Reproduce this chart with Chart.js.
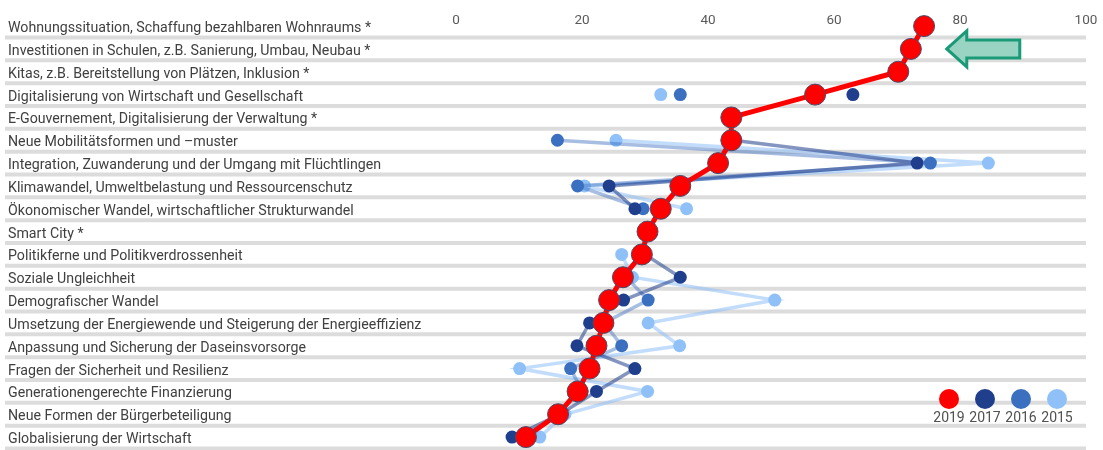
<!DOCTYPE html>
<html>
<head>
<meta charset="utf-8">
<script src="https://cdn.jsdelivr.net/npm/chart.js@4/dist/chart.umd.min.js"></script>
<style>
  html, body { margin: 0; padding: 0; background: #ffffff; overflow: hidden; }
  #wrap { position: relative; width: 1103px; height: 460px; }
</style>
</head>
<body>
<div id="wrap"><canvas id="chart" width="1103" height="460"></canvas></div>
<script>
// Themen (Zeilen), von oben nach unten
const categories = [
  'Wohnungssituation, Schaffung bezahlbaren Wohnraums *',
  'Investitionen in Schulen, z.B. Sanierung, Umbau, Neubau *',
  'Kitas, z.B. Bereitstellung von Plätzen, Inklusion *',
  'Digitalisierung von Wirtschaft und Gesellschaft',
  'E-Gouvernement, Digitalisierung der Verwaltung *',
  'Neue Mobilitätsformen und –muster',
  'Integration, Zuwanderung und der Umgang mit Flüchtlingen',
  'Klimawandel, Umweltbelastung und Ressourcenschutz',
  'Ökonomischer Wandel, wirtschaftlicher Strukturwandel',
  'Smart City *',
  'Politikferne und Politikverdrossenheit',
  'Soziale Ungleichheit',
  'Demografischer Wandel',
  'Umsetzung der Energiewende und Steigerung der Energieeffizienz',
  'Anpassung und Sicherung der Daseinsvorsorge',
  'Fragen der Sicherheit und Resilienz',
  'Generationengerechte Finanzierung',
  'Neue Formen der Bürgerbeteiligung',
  'Globalisierung der Wirtschaft'
];

const years = ['2019', '2017', '2016', '2015'];

// Anteile in Prozent je Jahr (null = Thema in diesem Jahr nicht abgefragt)
const values2019 = [74.3, 72.2, 70.2, 57.0, 43.7, 43.7, 41.6, 35.6, 32.5, 30.4, 29.5, 26.5, 24.3, 23.4, 22.3, 21.2, 19.3, 16.2, 11.1];
const values2017 = [null, null, null, 63.0, null, 44.0, 73.2, 24.3, 28.4, null, 30.0, 35.6, 26.6, 21.2, 19.2, 28.4, 22.3, 16.5, 8.9];
const values2016 = [null, null, null, 35.6, null, 16.1, 75.3, 19.3, 29.7, null, 29.0, 27.0, 30.5, 23.5, 26.3, 18.2, 20.0, 16.0, 11.0];
const values2015 = [null, null, null, 32.5, null, 25.4, 84.5, 20.4, 36.6, null, 26.3, 28.0, 50.6, 30.5, 35.5, 10.1, 30.4, 17.3, 13.3];

const xTicks = [0, 20, 40, 60, 80, 100];

const pointColors = { '2019': '#ff0000', '2017': '#1f3e8c', '2016': '#3b6fbf', '2015': '#8fc1f8' };
const lineColors  = { '2019': '#ff0000', '2017': 'rgba(31,62,140,0.55)', '2016': 'rgba(60,110,190,0.45)', '2015': 'rgba(143,192,247,0.55)' };
const seriesValues = { '2019': values2019, '2017': values2017, '2016': values2016, '2015': values2015 };

const LABEL_FONT = 'Roboto, "Liberation Sans", Arial, sans-serif';

// graue Trennbalken zwischen den Zeilen, über die volle Breite inkl. Beschriftung
const rowSeparators = {
  id: 'rowSeparators',
  beforeDatasetsDraw(chart) {
    const { ctx, chartArea, scales: { y } } = chart;
    const band = y.getPixelForValue(1) - y.getPixelForValue(0);
    ctx.save();
    ctx.strokeStyle = '#dcdcdc';
    ctx.lineWidth = 4;
    for (let i = 0; i < categories.length; i++) {
      const yy = y.getPixelForValue(i) + band / 2;
      ctx.beginPath();
      ctx.moveTo(5, yy);
      ctx.lineTo(chartArea.right, yy);
      ctx.stroke();
    }
    ctx.restore();
  }
};

// Hinweispfeil auf die neuen Spitzenthemen
const arrowMarker = {
  id: 'arrowMarker',
  afterDatasetsDraw(chart) {
    const { ctx, scales: { x, y } } = chart;
    const tipX = x.getPixelForValue(77.9);
    const cy = y.getPixelForValue(1);
    const headW = 20, headH = 18, shaftH = 9, shaftEnd = tipX + 73;
    ctx.save();
    ctx.beginPath();
    ctx.moveTo(tipX, cy);
    ctx.lineTo(tipX + headW, cy - headH);
    ctx.lineTo(tipX + headW, cy - shaftH);
    ctx.lineTo(shaftEnd, cy - shaftH);
    ctx.lineTo(shaftEnd, cy + shaftH);
    ctx.lineTo(tipX + headW, cy + shaftH);
    ctx.lineTo(tipX + headW, cy + headH);
    ctx.closePath();
    ctx.fillStyle = '#98d4c1';
    ctx.fill();
    ctx.lineWidth = 3;
    ctx.lineJoin = 'miter';
    ctx.strokeStyle = '#1b9a78';
    ctx.stroke();
    ctx.restore();
  }
};

// Legende unten rechts: Kreis mit Jahreszahl darunter
const yearLegend = {
  id: 'yearLegend',
  afterDraw(chart) {
    const { ctx, chartArea } = chart;
    const step = 36;
    const startX = chartArea.right - 137;
    const cy = chartArea.bottom - 49.5;
    ctx.save();
    ctx.font = '14px ' + LABEL_FONT;
    ctx.textAlign = 'center';
    ctx.textBaseline = 'middle';
    years.forEach((yr, i) => {
      const cx = startX + i * step;
      ctx.beginPath();
      ctx.arc(cx, cy, 10, 0, Math.PI * 2);
      ctx.fillStyle = pointColors[yr];
      ctx.fill();
      ctx.fillStyle = '#505050';
      ctx.fillText(yr, cx, cy + 19);
    });
    ctx.restore();
  }
};

const datasets = years.map((yr, i) => {
  const main = yr === '2019';
  return {
    label: yr,
    data: seriesValues[yr],
    order: i,
    borderColor: lineColors[yr],
    borderWidth: main ? 5 : 3.5,
    pointRadius: main ? 10.5 : 6.5,
    pointHoverRadius: main ? 10.5 : 6.5,
    pointBackgroundColor: pointColors[yr],
    pointBorderColor: main ? '#4a4a66' : pointColors[yr],
    pointBorderWidth: main ? 1 : 0,
    tension: 0,
    spanGaps: false,
    fill: false
  };
});

new Chart(document.getElementById('chart'), {
  type: 'line',
  data: { labels: categories, datasets },
  plugins: [rowSeparators, arrowMarker, yearLegend],
  options: {
    indexAxis: 'y',
    responsive: false,
    animation: false,
    devicePixelRatio: 1,
    layout: { padding: { left: 8, right: 17, top: 0.2, bottom: 8.3 } },
    plugins: { legend: { display: false }, tooltip: { enabled: false } },
    scales: {
      x: {
        type: 'linear',
        position: 'top',
        min: 0,
        max: 100,
        afterBuildTicks(scale) { scale.ticks = xTicks.map(v => ({ value: v })); },
        grid: { display: false, drawTicks: false },
        border: { display: false },
        // mirror: Beschriftung darf in die erste Zeile hineinragen
        ticks: { mirror: true, color: '#5a5a5a', padding: -2, font: { size: 13.5, family: LABEL_FONT } },
        afterFit(scale) { scale.height = 14.5; }
      },
      y: {
        type: 'category',
        position: 'left',
        offset: true,
        grid: { display: false, drawTicks: false },
        border: { display: false },
        ticks: { color: '#404040', crossAlign: 'far', padding: 0, labelOffset: 2.5, autoSkip: false, font: { size: 14.2, family: LABEL_FONT } },
        afterFit(scale) { scale.width = 448; }
      }
    }
  }
});
</script>
</body>
</html>
